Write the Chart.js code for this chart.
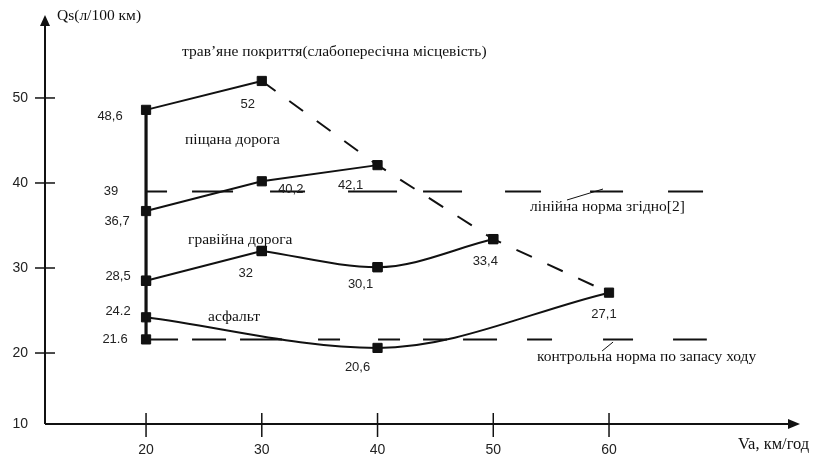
<!DOCTYPE html>
<html><head><meta charset="utf-8">
<script src="https://cdn.jsdelivr.net/npm/chart.js@4.4.0/dist/chart.umd.min.js"></script>
<style>html,body{margin:0;padding:0;background:#fff}#wrap{width:817px;height:459px;position:relative}</style>
</head><body><div id="wrap"><canvas id="c"></canvas></div>
<script>
// ---- data ----
const xTicks = [20, 30, 40, 50, 60];
const yTicks = [20, 30, 40, 50];
const yOriginLabel = '10';
const grassX = [20, 30];
const grassY = [48.6, 52];
const grassLabels = ['48,6', '52'];
const boundaryX = [30, 40, 50, 60];
const boundaryY = [52, 42.1, 33.4, 27.1];
const sandX = [20, 30, 40];
const sandY = [36.7, 40.2, 42.1];
const sandLabels = ['36,7', '40,2', '42,1'];
const gravelX = [20, 30, 40, 50];
const gravelY = [28.5, 32, 30.1, 33.4];
const gravelLabels = ['28,5', '32', '30,1', '33,4'];
const asphaltX = [20, 40, 60];
const asphaltY = [24.2, 20.6, 27.1];
const asphaltLabels = ['24.2', '20,6', '27,1'];
const stemX = 20;
const stemY = [21.6, 48.6];
const linearNorm = 39;
const linearNormLabel = '39';
const controlNorm = 21.6;
const controlNormLabel = '21.6';
const normX = [20, 68.45];
const xTitle = 'Va, км/год';
const yTitle = 'Qs(л/100 км)';
const surfaceNames = ['трав’яне покриття(слабопересічна місцевість)', 'піщана дорога', 'гравійна дорога', 'асфальт'];
const normNames = ['лінійна норма згідно[2]', 'контрольна норма по запасу ходу'];

// ---- layout / style (not data) ----
const X_MIN = 11.27, X_MAX = 76.5, Y_MIN = 11.65, Y_MAX = 59.76;
const grassOff = [[-36, 7], [-14, 23]];
const sandOff = [[-29, 10], [29, 8], [-27, 20]];
const gravelOff = [[-28, -4], [-16, 22], [-17, 17], [-8, 22]];
const asphaltOff = [[-28, -6], [-20, 20], [-5, 22]];
const surfacePos = [[23.11, 55.41], [23.37, 45.06], [23.63, 33.29], [25.36, 24.24]];
const normPos = [[53.18, 37.18], [53.78, 19.53]];
const leaders = [[[56.37, 38.0], [59.48, 39.29]], [[59.40, 20.24], [60.35, 21.29]]];
const dashUpper = [21, 25, 41, 37, 35, 43, 49, 26, 39, 43, 36, 49, 33, 45, 35, 200];
const dashLower = [32, 14, 34, 14, 42, 36, 22, 38, 22, 23, 24, 16, 34, 30, 25, 51, 30, 40, 34, 200];

const pts = (xs, ys) => xs.map((x, i) => ({x, y: ys[i]}));
const INK = '#111';
const base = {showLine: true, borderColor: INK, backgroundColor: INK, pointStyle: 'rect', pointRadius: 6.5, pointBorderWidth: 1, borderWidth: 2, tension: 0, pointHoverRadius: 6.5};

const datasets = [
  {...base, data: pts([stemX, stemX], stemY), borderWidth: 3.2, pointRadius: 0},
  {...base, data: [{x: stemX, y: controlNorm}], showLine: false},
  {...base, data: pts(normX, [linearNorm, linearNorm]), pointRadius: 0, borderDash: dashUpper, borderWidth: 2},
  {...base, data: pts(normX, [controlNorm, controlNorm]), pointRadius: 0, borderDash: dashLower, borderWidth: 2},
  {...base, data: pts(boundaryX, boundaryY), pointRadius: 0, borderDash: [17, 17], borderWidth: 2},
  {...base, data: pts(grassX, grassY), labels: grassLabels, offs: grassOff},
  {...base, data: pts(sandX, sandY), labels: sandLabels, offs: sandOff},
  {...base, data: pts(gravelX.slice(0, 2), gravelY.slice(0, 2))},
  {...base, data: pts(gravelX.slice(1), gravelY.slice(1)), cubicInterpolationMode: 'monotone'},
  {...base, data: pts(gravelX, gravelY), showLine: false, labels: gravelLabels, offs: gravelOff},
  {...base, data: pts(asphaltX, asphaltY), cubicInterpolationMode: 'monotone', labels: asphaltLabels, offs: asphaltOff}
];

const SERIF = '"Liberation Serif", "Times New Roman", serif';
const deco = {
  id: 'deco',
  beforeDraw(ch) {
    const c = ch.ctx; c.save(); c.fillStyle = '#fff'; c.fillRect(0, 0, ch.width, ch.height); c.restore();
  },
  beforeDatasetsDraw(ch) {
    const c = ch.ctx, a = ch.chartArea, xs = ch.scales.x, ys = ch.scales.y;
    c.save();
    c.strokeStyle = INK; c.fillStyle = INK; c.lineWidth = 2;
    c.beginPath(); c.moveTo(a.left, a.bottom); c.lineTo(a.left, a.top + 8); c.stroke();
    c.beginPath(); c.moveTo(a.left, a.top); c.lineTo(a.left - 5, a.top + 11); c.lineTo(a.left + 5, a.top + 11); c.closePath(); c.fill();
    c.beginPath(); c.moveTo(a.left, a.bottom); c.lineTo(a.right - 8, a.bottom); c.stroke();
    c.beginPath(); c.moveTo(a.right, a.bottom); c.lineTo(a.right - 12, a.bottom - 5); c.lineTo(a.right - 12, a.bottom + 5); c.closePath(); c.fill();
    c.lineWidth = 1.5;
    yTicks.forEach(v => { const y = ys.getPixelForValue(v); c.beginPath(); c.moveTo(a.left - 10, y); c.lineTo(a.left + 10, y); c.stroke(); });
    xTicks.forEach(v => { const x = xs.getPixelForValue(v); c.beginPath(); c.moveTo(x, a.bottom - 11); c.lineTo(x, a.bottom + 13); c.stroke(); });
    c.lineWidth = 1;
    leaders.forEach(([p, q]) => { c.beginPath(); c.moveTo(xs.getPixelForValue(p[0]), ys.getPixelForValue(p[1])); c.lineTo(xs.getPixelForValue(q[0]), ys.getPixelForValue(q[1])); c.stroke(); });
    c.restore();
  },
  afterDatasetsDraw(ch) {
    const c = ch.ctx, a = ch.chartArea, xs = ch.scales.x, ys = ch.scales.y;
    c.save();
    c.fillStyle = '#222';
    c.font = '13px "Liberation Sans", Arial, sans-serif';
    c.textAlign = 'center'; c.textBaseline = 'middle';
    ch.data.datasets.forEach(ds => {
      if (!ds.labels) return;
      ds.data.forEach((p, i) => {
        const o = ds.offs[i];
        c.fillText(ds.labels[i], xs.getPixelForValue(p.x) + o[0], ys.getPixelForValue(p.y) + o[1]);
      });
    });
    c.fillText(linearNormLabel, xs.getPixelForValue(stemX) - 35, ys.getPixelForValue(linearNorm));
    c.fillText(controlNormLabel, xs.getPixelForValue(stemX) - 31, ys.getPixelForValue(controlNorm));
    c.fillStyle = INK;
    c.font = '15.5px ' + SERIF;
    c.textAlign = 'left';
    surfaceNames.forEach((t, i) => c.fillText(t, xs.getPixelForValue(surfacePos[i][0]), ys.getPixelForValue(surfacePos[i][1])));
    normNames.forEach((t, i) => c.fillText(t, xs.getPixelForValue(normPos[i][0]), ys.getPixelForValue(normPos[i][1])));
    c.fillText(yTitle, a.left + 12, a.top + 1);
    c.font = '16.5px ' + SERIF;
    c.fillText(xTitle, a.right - 62, a.bottom + 21);
    c.restore();
  }
};

new Chart(document.getElementById('c'), {
  type: 'scatter',
  data: {datasets},
  plugins: [deco],
  options: {
    responsive: true, maintainAspectRatio: false, animation: false,
    layout: {padding: {top: 15, right: 17, left: 0, bottom: 0}},
    plugins: {legend: {display: false}, tooltip: {enabled: false}},
    scales: {
      x: {
        type: 'linear', min: X_MIN, max: X_MAX,
        afterBuildTicks: s => { s.ticks = xTicks.map(v => ({value: v})); },
        afterFit: s => { s.height = 35; s.paddingLeft = 0; s.paddingRight = 0; },
        grid: {display: false, drawTicks: false}, border: {display: false},
        ticks: {padding: 18, color: '#222', font: {family: '"Liberation Sans", Arial, sans-serif', size: 14}, maxRotation: 0, autoSkip: false}
      },
      y: {
        type: 'linear', min: Y_MIN, max: Y_MAX,
        afterBuildTicks: s => { s.ticks = [Y_MIN, ...yTicks].map(v => ({value: v})); },
        afterFit: s => { s.width = 45; s.paddingTop = 0; s.paddingBottom = 0; },
        grid: {display: false, drawTicks: false}, border: {display: false},
        ticks: {padding: 17, color: '#222', font: {family: '"Liberation Sans", Arial, sans-serif', size: 14}, autoSkip: false,
          callback: v => (v === Y_MIN ? yOriginLabel : String(v))}
      }
    }
  }
});
</script></body></html>
